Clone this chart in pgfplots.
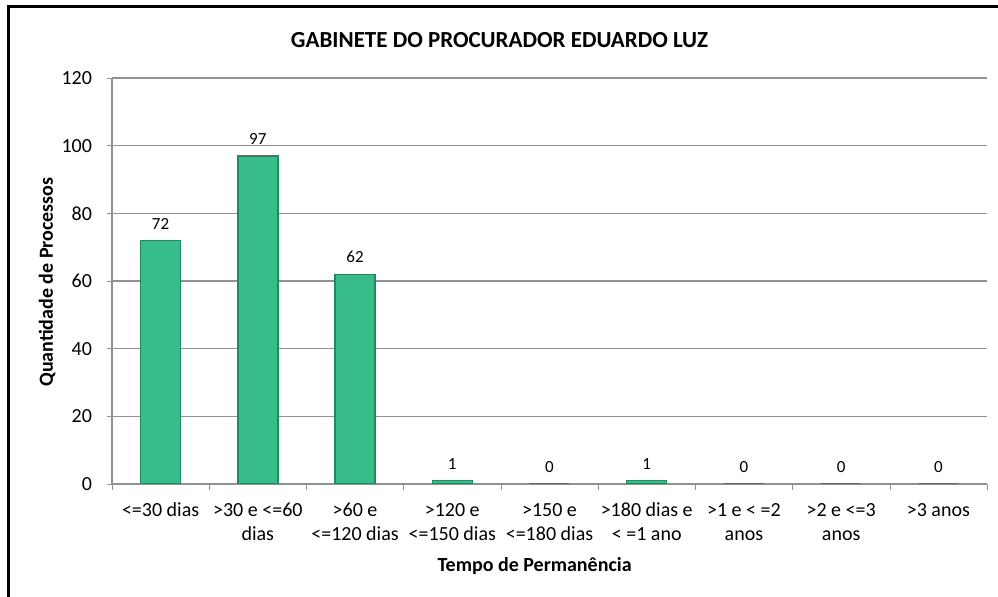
\documentclass[border=0pt]{standalone}
\usepackage{fontspec}
\setmainfont{Carlito}
\usepackage{pgfplots}
\pgfplotsset{compat=1.18}
\definecolor{barg}{RGB}{56,188,137}
\definecolor{bardark}{RGB}{30,140,96}
\definecolor{axgray}{RGB}{145,145,145}
\begin{document}
\begin{tikzpicture}
\useasboundingbox (0pt,0pt) rectangle (499pt,-298.5pt);
\draw[line width=1.5pt] (4pt,-300pt) -- (4pt,-3.5pt) -- (500pt,-3.5pt);
\begin{axis}[
  at={(56pt,-242pt)}, anchor=south west,
  scale only axis, width=437.5pt, height=203pt,
  ymin=0, ymax=120, ytick={0,20,...,120},
  xmin=0.5, xmax=9.5,
  xtick={1,...,9},
  xticklabels={{<=30 dias},{>30 e <=60\\dias},{>60 e\\<=120 dias},{>120 e\\<=150 dias},{>150 e\\<=180 dias},{>180 dias e\\< =1 ano},{>1 e < =2\\anos},{>2 e <=3\\anos},{>3 anos}},
  xticklabel style={align=center, font=\fontsize{10}{12}\selectfont, yshift=-3.5pt},
  yticklabel style={font=\fontsize{10}{12}\selectfont, xshift=-4pt},
  minor xtick={0.5,1.5,...,9.5},
  major tick length=2.5pt,
  minor tick length=3pt,
  x tick style={draw=none},
  minor x tick style={draw=axgray},
  y tick style={draw=axgray},
  tick align=outside,
  axis x line*=bottom, axis y line*=left,
  axis line style={draw=axgray, line width=0.6pt},
  ymajorgrids, grid style={draw=axgray, line width=0.6pt},
  /pgf/number format/assume math mode=true,
  ybar, bar width=20pt,
  nodes near coords,
  nodes near coords style={font=\fontsize{8.5}{10}\selectfont, yshift=2pt},
  every axis title shift=0pt,
  title={GABINETE DO PROCURADOR EDUARDO LUZ},
  title style={font=\bfseries\fontsize{11.5}{13}\selectfont, at={(rel axis cs:0.443,1.0936)}, anchor=center},
  xlabel={Tempo de Permanência},
  xlabel style={font=\bfseries\fontsize{10}{12}\selectfont, at={(rel axis cs:0.483,-0.202)}, anchor=center},
  ylabel={Quantidade de Processos},
  ylabel style={font=\bfseries\fontsize{10}{12}\selectfont, at={(rel axis cs:-0.0743,0.4975)}, anchor=center, rotate=0},
]
\addplot[fill=barg, draw=bardark, line width=0.7pt] coordinates {(1,72) (2,97) (3,62) (4,1) (5,0) (6,1) (7,0) (8,0) (9,0)};
\end{axis}
\end{tikzpicture}
\end{document}
